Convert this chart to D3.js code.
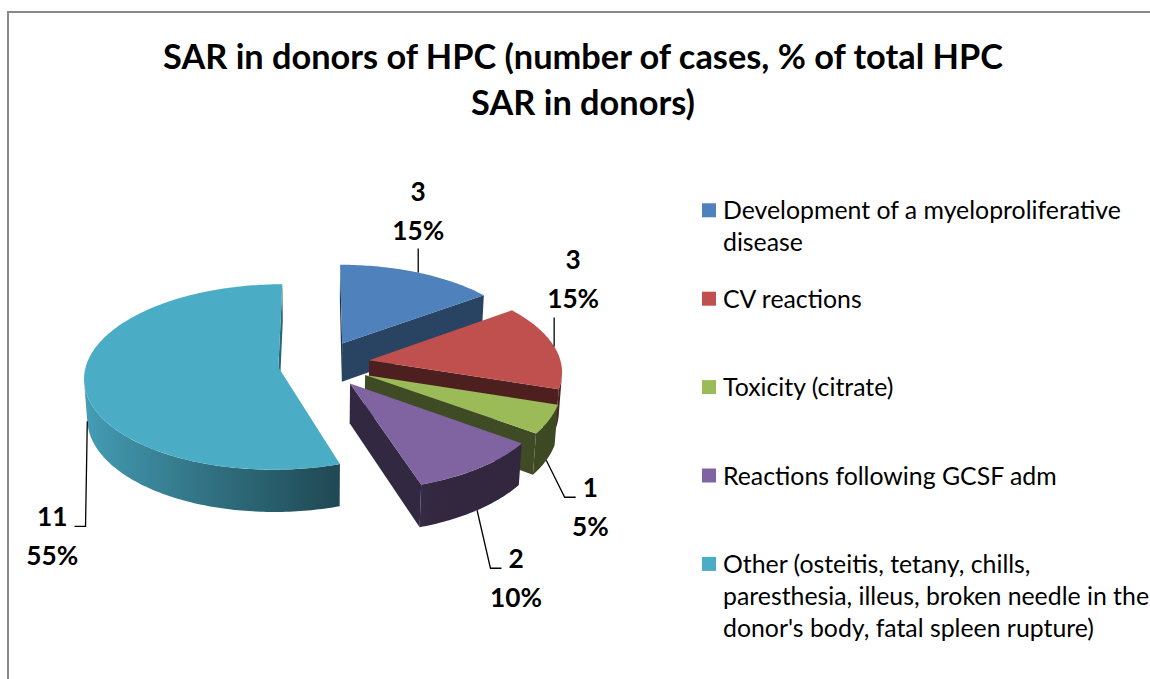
<!DOCTYPE html>
<html>
<head>
<meta charset="utf-8">
<script src="https://cdn.jsdelivr.net/npm/d3@7"></script>
<style>
  body { margin: 0; background: #fff; }
  svg { display: block; }
</style>
</head>
<body>
<div class="box"></div>
<script>
// chart data
const titleLines = ["SAR in donors of HPC (number of cases, % of total HPC", "SAR in donors)"]
const categories = [
    "Development of a myeloproliferative\ndisease",
    "CV reactions",
    "Toxicity (citrate)",
    "Reactions following GCSF adm",
    "Other (osteitis, tetany, chills,\nparesthesia, illeus, broken needle in the\ndonor's body, fatal spleen rupture)"
]
const cases = [3, 3, 1, 2, 11]
const colors = ["#4f81bd", "#c0504d", "#9bbb59", "#8064a2", "#4bacc6"]

// styling
const FONT = "Lato, 'Liberation Sans', sans-serif"
const explode = [50, 50, 50, 50, 42]
const labelOffsets = [[0, -72], [19, -77], [44, 37], [39, 58], [-35, 105]]

const width = 1150
const height = 679
const cx = 320, cy = 364
const R = 192, H = 45
const tilt = 28.3 * Math.PI / 180
const dist = 1600
const sa = Math.sin(tilt), ca = Math.cos(tilt)
const cam = [0, -dist * ca, dist * sa]

const svg = d3.select('.box')
    .append('svg')
    .attr('width', width)
    .attr('height', height)

const defs = svg.append('defs')

svg.append('rect')
    .attr('x', 8).attr('y', 12)
    .attr('width', 1200).attr('height', 720)
    .attr('fill', 'none')
    .attr('stroke', '#898989')
    .attr('stroke-width', 2)

function fitSize(text, weight, target) {
    const t = svg.append('text')
        .attr('font-family', FONT).attr('font-weight', weight)
        .attr('font-size', 100).text(text)
    const w = t.node().getComputedTextLength()
    t.remove()
    return 100 * target / w
}

const titleSize = fitSize(titleLines[0], 'bold', 840)
const legendSize = fitSize("Development of a myeloproliferative", 'normal', 398)
const labelSize = fitSize("15%", 'bold', 52)

// title
svg.append('text')
    .attr('font-family', FONT)
    .attr('font-weight', 'bold')
    .attr('font-size', titleSize)
    .attr('text-anchor', 'middle')
    .selectAll('tspan')
    .data(titleLines).enter()
    .append('tspan')
    .attr('x', 583)
    .attr('y', (d, i) => 69 + i * 46)
    .text(d => d)

// 3d projection
function project(X, Y, Z) {
    const up = Y * sa + Z * ca
    const d = Y * ca - Z * sa
    const f = dist / (dist + d)
    return [cx + X * f, cy - up * f]
}

function shade(c, k) {
    const col = d3.rgb(c)
    return d3.rgb(col.r * k, col.g * k, col.b * k).formatHex()
}

const sideLight = a => Math.max(0.39, 0.54 - 0.39 * Math.sin(a))
const cutLight = n => 0.4 + 0.2 * Math.max(0, n[0])

const pie = d3.pie().sort(null).value(d => d)
const total = d3.sum(cases)
const pct = d3.format(".0%")

const slices = pie(cases).map((a, i) => {
    const m = (a.startAngle + a.endAngle) / 2
    return { ...a, i, m, ox: explode[i] * Math.sin(m), oy: explode[i] * Math.cos(m) }
})

const rim3 = (s, a, z) => [s.ox + R * Math.sin(a), s.oy + R * Math.cos(a), z]
const rim = (s, a, z) => project(...rim3(s, a, z))
const apex = (s, z) => project(s.ox, s.oy, z)

function arcPts(s, a0, a1, z) {
    const n = Math.max(2, Math.ceil(Math.abs(a1 - a0) / (Math.PI / 180)))
    return d3.range(n + 1).map(k => rim(s, a0 + (a1 - a0) * k / n, z))
}

function facing(n, p) {
    return n[0] * (cam[0] - p[0]) + n[1] * (cam[1] - p[1]) + n[2] * (cam[2] - p[2]) > 0
}

const line = d3.line()
const plot = svg.append('g')

slices.slice().sort((a, b) => b.oy - a.oy).forEach(s => {
    const g = plot.append('g')
    const base = colors[s.i]
    const p0 = [s.ox, s.oy, 0]

    // cut faces
    const cuts = [
        { a: s.startAngle, n: [-Math.cos(s.startAngle), Math.sin(s.startAngle), 0] },
        { a: s.endAngle, n: [Math.cos(s.endAngle), -Math.sin(s.endAngle), 0] }
    ]
    cuts.forEach(c => {
        if (!facing(c.n, p0)) return
        g.append('path')
            .attr('d', line([apex(s, 0), rim(s, c.a, 0), rim(s, c.a, -H), apex(s, -H)]) + 'Z')
            .attr('fill', shade(base, cutLight(c.n)))
    })

    // outer side, visible runs only
    const step = Math.PI / 720
    let runs = [], cur = null
    for (let a = s.startAngle; a <= s.endAngle + 1e-9; a += step) {
        const vis = facing([Math.sin(a), Math.cos(a), 0], rim3(s, a, 0))
        if (vis) {
            if (!cur) { cur = [a, a]; runs.push(cur) }
            cur[1] = a
        } else cur = null
    }
    runs.forEach((r, ri) => {
        if (r[1] - r[0] < step) return
        const top = arcPts(s, r[0], r[1], 0)
        const bot = arcPts(s, r[1], r[0], -H)
        const x1 = top[0][0], x2 = top[top.length - 1][0]
        const id = `side${s.i}_${ri}`
        const grad = defs.append('linearGradient')
            .attr('id', id)
            .attr('gradientUnits', 'userSpaceOnUse')
            .attr('x1', x1).attr('x2', x2).attr('y1', 0).attr('y2', 0)
        d3.range(11).forEach(k => {
            const a = r[0] + (r[1] - r[0]) * k / 10
            const x = rim(s, a, 0)[0]
            const off = Math.abs(x2 - x1) < 1 ? k / 10 : (x - x1) / (x2 - x1)
            grad.append('stop')
                .attr('offset', Math.min(1, Math.max(0, off)))
                .attr('stop-color', shade(base, sideLight(a)))
        })
        g.append('path')
            .attr('d', line(top.concat(bot)) + 'Z')
            .attr('fill', `url(#${id})`)
    })

    // top face
    g.append('path')
        .attr('d', line([apex(s, 0)].concat(arcPts(s, s.startAngle, s.endAngle, 0))) + 'Z')
        .attr('fill', base)
})

// data labels with leader lines
const labels = svg.append('g')
    .attr('font-family', FONT)
    .attr('font-weight', 'bold')
    .attr('font-size', labelSize)

slices.forEach(s => {
    const anchor = Math.cos(s.m) > 0 ? rim(s, s.m, 0) : rim(s, s.m, -H)
    const off = labelOffsets[s.i]
    const lx = anchor[0] + off[0]
    const ly = anchor[1] + off[1]
    const t = labels.append('text').attr('text-anchor', 'middle')
    t.append('tspan').attr('x', lx).attr('y', ly).text(s.data)
    t.append('tspan').attr('x', lx).attr('y', ly + 39).text(pct(s.data / total))

    let pts
    if (off[1] < 0) {
        pts = [anchor, [anchor[0], ly + 48]]
    } else {
        const side = Math.sign(off[0])
        const w1 = t.select('tspan').node().getComputedTextLength()
        const endX = lx - side * (w1 / 2 + 7)
        const elbowX = endX - side * 11
        pts = [anchor, [elbowX, ly], [endX, ly]]
    }
    labels.append('path')
        .attr('d', line(pts))
        .attr('fill', 'none')
        .attr('stroke', '#000')
        .attr('stroke-width', 1.3)
})

// legend
const legend = svg.append('g')
    .attr('font-family', FONT)
    .attr('font-size', legendSize)

categories.forEach((c, i) => {
    const by = 219.3 + i * 88.4
    legend.append('rect')
        .attr('x', 702).attr('y', by - 16)
        .attr('width', 14).attr('height', 14)
        .attr('fill', colors[i])
    legend.append('text')
        .selectAll('tspan')
        .data(c.split('\n')).enter()
        .append('tspan')
        .attr('x', 723)
        .attr('y', (d, k) => by + k * 31.8)
        .attr('fill', '#000')
        .text(d => d)
})
</script>
</body>
</html>
